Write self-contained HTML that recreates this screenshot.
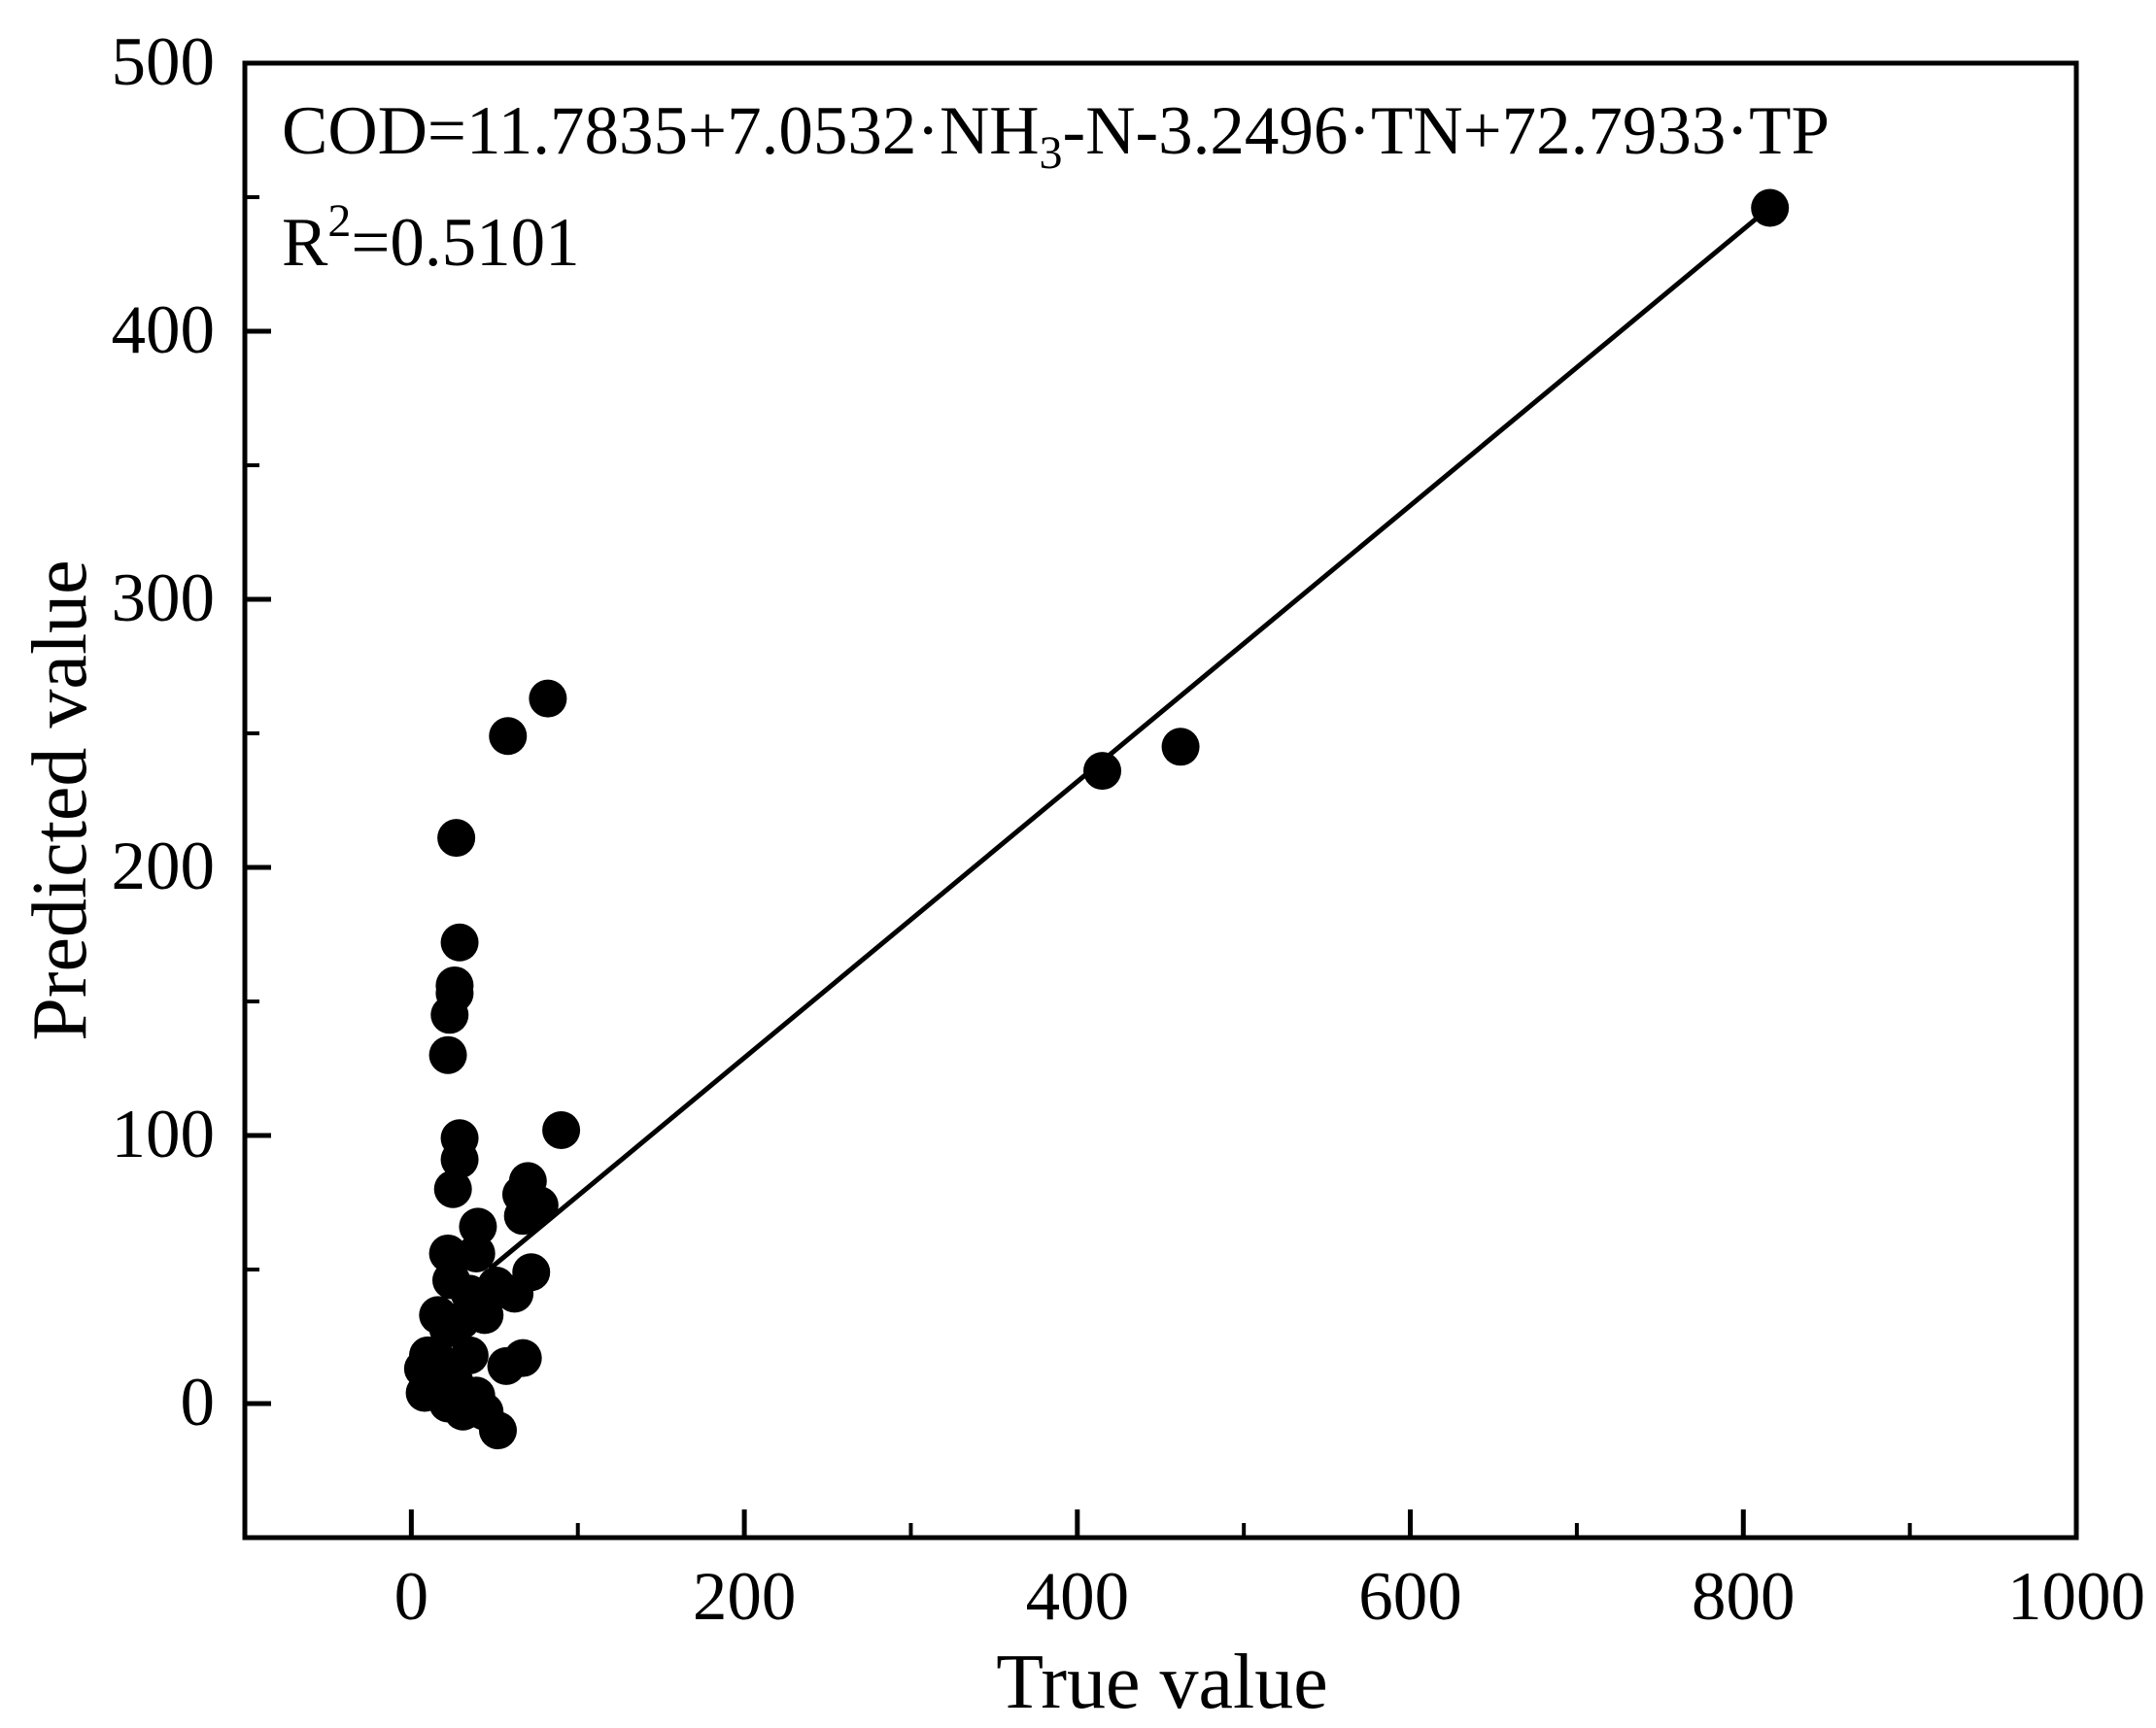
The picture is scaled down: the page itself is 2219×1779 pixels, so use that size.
<!DOCTYPE html>
<html><head><meta charset="utf-8"><style>
html,body{margin:0;padding:0;background:#fff}
svg{display:block}
text{font-family:"Liberation Serif",serif;fill:#000}
</style></head><body>
<svg id="chart" width="2219" height="1779" viewBox="0 0 2219 1779" xmlns="http://www.w3.org/2000/svg">
<rect width="2219" height="1779" fill="#fff"/>
<g id="marks"></g>
<rect x="252" y="65" width="1885" height="1518" fill="none" stroke="#000" stroke-width="5"/>
<g id="axes"></g>
<text x="290" y="158" font-size="71">COD=11.7835+7.0532·NH<tspan font-size="48" dy="15">3</tspan><tspan dy="-15">-N-3.2496·TN+72.7933·TP</tspan></text>
<text x="290" y="273" font-size="71">R<tspan font-size="48" dy="-30">2</tspan><tspan dy="30">=0.5101</tspan></text>
<text x="1196" y="1758" font-size="80" text-anchor="middle">True value</text>
<text transform="translate(88,824) rotate(-90)" font-size="80" text-anchor="middle">Predicted value</text>
</svg>
<script>
const trueVals = [816,415,462,82,58,27,29,26,26,23,22,90,29,29,25,70,66,77,67,40,72,62,44,22,39,24,35,47,16,22,10,8,7,18,35,26,39,31,44,52,57,67,22,14,30,51];
const predVals = [446,236,245,263,249,211,172,156,153,145,130,102,99,91,80,83,78,74,70,66,49,41,33,56,56,46,41,41,33,28,18,4,13,15,18,8,3,-3,-3,-10,14,17,0,10,31,44];
const fitIntercept = 26;
const fitSlope = 0.515;
const fitRange = [47, 816];
const xTicks = [0,200,400,600,800,1000];
const xMinor = [100,300,500,700,900];
const yTicks = [0,100,200,300,400,500];
const yMinor = [50,150,250,350,450];

const X0=252,X1=2137,Y0=1583,Y1=65,xmin=-100,xmax=1000,ymin=-50,ymax=500;
const sx=v=>X0+(v-xmin)/(xmax-xmin)*(X1-X0);
const sy=v=>Y0-(v-ymin)/(ymax-ymin)*(Y0-Y1);
const NS="http://www.w3.org/2000/svg";
const marks=document.getElementById('marks'), axes=document.getElementById('axes');
function mk(tag,attrs,parent){const e=document.createElementNS(NS,tag);for(const k in attrs)e.setAttribute(k,attrs[k]);parent.appendChild(e);return e;}

const line=mk('line',{x1:sx(fitRange[0]),y1:sy(fitIntercept+fitSlope*fitRange[0]),x2:sx(fitRange[1]),y2:sy(fitIntercept+fitSlope*fitRange[1]),stroke:'#000','stroke-width':5},marks);


trueVals.forEach((t,i)=>{
  const c=mk('circle',{cx:sx(t),cy:sy(predVals[i]),r:19.5,fill:'#000'},marks);
  
  
});
xTicks.forEach(v=>{
  const l=mk('line',{x1:sx(v),x2:sx(v),y1:Y0,y2:Y0-29,stroke:'#000','stroke-width':5},axes);
  
  
  const t=mk('text',{x:sx(v),y:1667,'font-size':71,'text-anchor':'middle'},axes);
  t.textContent=v;
  
  
});
xMinor.forEach(v=>{
  const l=mk('line',{x1:sx(v),x2:sx(v),y1:Y0,y2:Y0-15,stroke:'#000','stroke-width':4},axes);
  
  
});
yTicks.forEach(v=>{
  const l=mk('line',{x1:X0,x2:X0+27,y1:sy(v),y2:sy(v),stroke:'#000','stroke-width':5},axes);
  
  
  const t=mk('text',{x:221,y:sy(v)+22,'font-size':71,'text-anchor':'end'},axes);
  t.textContent=v;
  
  
});
yMinor.forEach(v=>{
  const l=mk('line',{x1:X0,x2:X0+15,y1:sy(v),y2:sy(v),stroke:'#000','stroke-width':4},axes);
  
  
});
</script>
</body></html>
